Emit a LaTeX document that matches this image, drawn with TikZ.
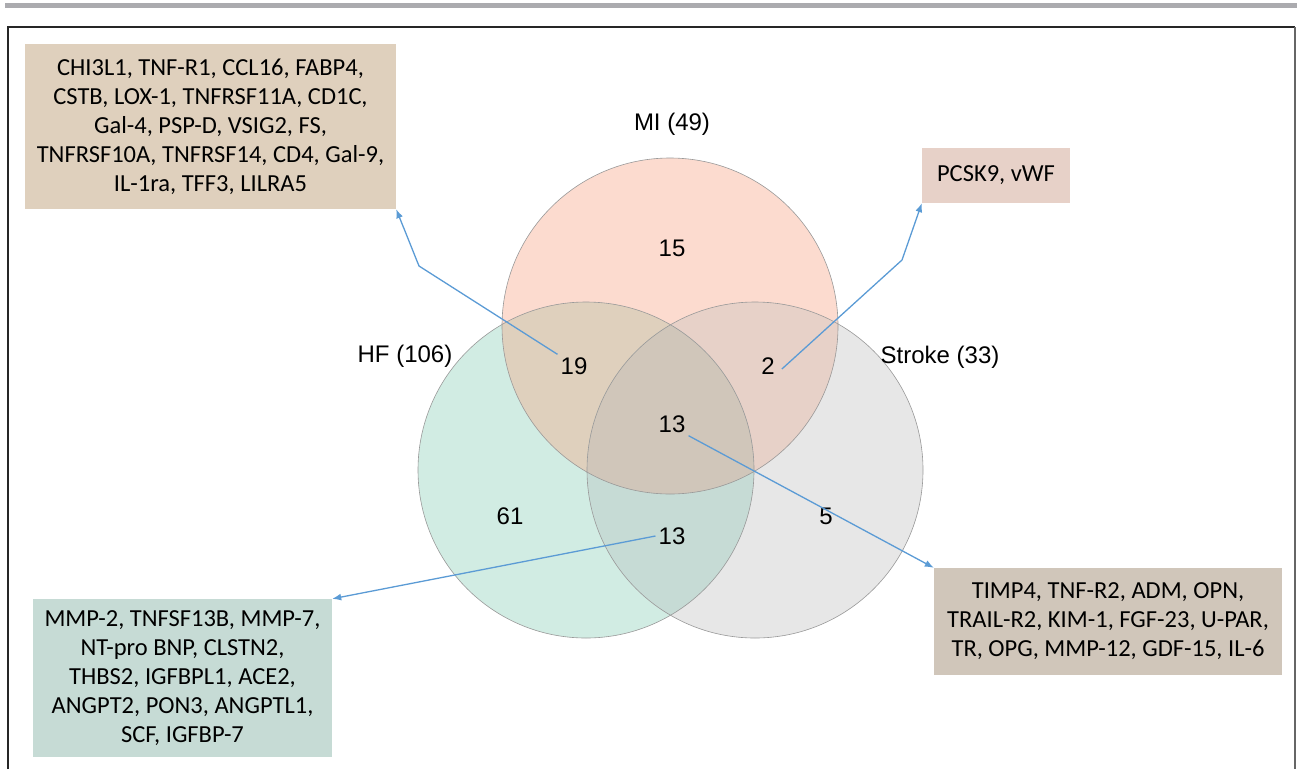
\documentclass[tikz,border=0pt]{standalone}
\usepackage{fontspec}
\setmainfont{Liberation Sans}
\newfontfamily\boxfont{Carlito}
\usetikzlibrary{arrows.meta}
\definecolor{cMI}{HTML}{FCDBCF}
\definecolor{cHF}{HTML}{D1ECE3}
\definecolor{cST}{HTML}{E7E7E7}
\definecolor{cMIHF}{HTML}{DFD0BD}
\definecolor{cMIST}{HTML}{E7D1C8}
\definecolor{cHFST}{HTML}{C6DBD5}
\definecolor{cALL}{HTML}{D0C6BA}
\definecolor{cArrow}{HTML}{5B9BD5}
\definecolor{cBar}{HTML}{ABABAF}
\tikzset{
  setlabel/.style={font=\fontsize{24}{29}\selectfont, inner sep=2pt},
  countlabel/.style={font=\fontsize{24}{29}\selectfont, inner sep=3pt},
  genebox/.style={font=\boxfont\fontsize{24.5}{29}\selectfont, align=center, inner sep=0pt},
  callout/.style={draw=cArrow, line width=1.3pt, -{Latex[length=9pt,width=7pt]}},
  circline/.style={draw=black!40, line width=0.6pt}
}
\begin{document}
\begin{tikzpicture}[x=1pt,y=-1pt]
\useasboundingbox (0,0) rectangle (1297,769);
% top bar and frame
\fill[cBar] (5,3) rectangle (1297,8);
\draw[black!85, line width=2pt] (8,769) -- (8,27) -- (1295,27);
\draw[black!60, line width=1.2pt] (1295,27) -- (1295,769);
% circles
\fill[cHF] (586,470) circle (168pt);
\fill[cST] (755,470) circle (168pt);
\fill[cMI] (670,326) circle (168pt);
\begin{scope}
  \clip (670,326) circle (168pt);
  \fill[cMIHF] (586,470) circle (168pt);
  \fill[cMIST] (755,470) circle (168pt);
\end{scope}
\begin{scope}
  \clip (586,470) circle (168pt);
  \fill[cHFST] (755,470) circle (168pt);
\end{scope}
\begin{scope}
  \clip (670,326) circle (168pt);
  \clip (586,470) circle (168pt);
  \fill[cALL] (755,470) circle (168pt);
\end{scope}
\draw[circline] (586,470) circle (168pt);
\draw[circline] (755,470) circle (168pt);
\draw[circline] (670,326) circle (168pt);
% set labels
\node[setlabel] (lMI) at (672,124) {MI (49)};
\node[setlabel] (lHF) at (405,356) {HF (106)};
\node[setlabel] (lST) at (940,357) {Stroke (33)};
% counts
\node[countlabel] (n15) at (672,248) {15};
\node[countlabel] (n19) at (574,366) {19};
\node[countlabel] (n2) at (768,366) {2};
\node[countlabel] (n13a) at (672,424) {13};
\node[countlabel] (n61) at (510,516) {61};
\node[countlabel] (n13b) at (672,536) {13};
\node[countlabel] (n5) at (826,516) {5};
% gene boxes
\node[genebox, fill=cMIHF, minimum width=371pt, minimum height=165pt] (bMIHF) at (210.5,126.5)
  {CHI3L1, TNF-R1, CCL16, FABP4,\\CSTB, LOX-1, TNFRSF11A, CD1C,\\Gal-4, PSP-D, VSIG2, FS,\\TNFRSF10A, TNFRSF14, CD4, Gal-9,\\IL-1ra, TFF3, LILRA5};
\node[genebox, fill=cMIST, minimum width=148pt, minimum height=55pt] (bMIST) at (996,175.5)
  {PCSK9, vWF};
\node[genebox, fill=cHFST, minimum width=299pt, minimum height=158pt] (bHFST) at (182.5,678)
  {MMP-2, TNFSF13B, MMP-7,\\NT-pro BNP, CLSTN2,\\THBS2, IGFBPL1, ACE2,\\ANGPT2, PON3, ANGPTL1,\\SCF, IGFBP-7};
\node[genebox, fill=cALL, minimum width=348pt, minimum height=107pt] (bALL) at (1108,621.5)
  {TIMP4, TNF-R2, ADM, OPN,\\TRAIL-R2, KIM-1, FGF-23, U-PAR,\\TR, OPG, MMP-12, GDF-15, IL-6};
% callouts
\coordinate (k1) at (419,266);
\coordinate (k2) at (902,260);
\draw[callout] (n19.north west) -- (k1) -- (bMIHF.south east);
\draw[callout] ([xshift=4pt,yshift=-3pt]n2.east) -- (k2) -- (bMIST.south west);
\draw[callout] (n13a.south east) -- (bALL.north west);
\draw[callout] (n13b.west) -- (bHFST.north east);
\end{tikzpicture}
\end{document}
